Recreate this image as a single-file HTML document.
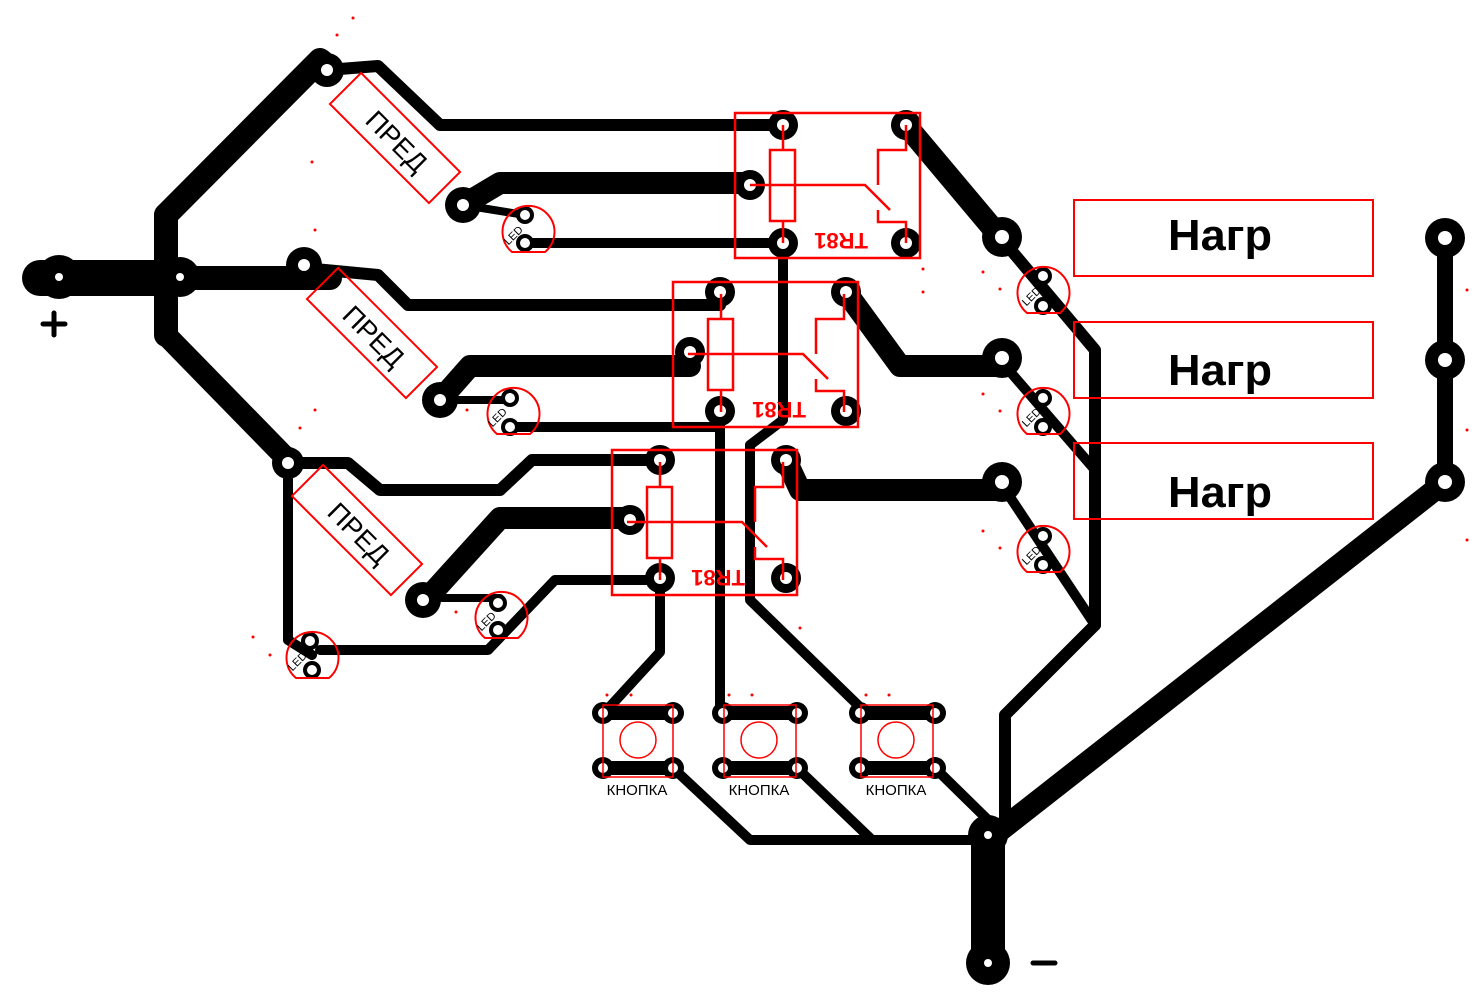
<!DOCTYPE html>
<html><head><meta charset="utf-8"><style>
html,body{margin:0;padding:0;background:#fff;}
svg{display:block;}
text{font-family:"Liberation Sans","DejaVu Sans",sans-serif;}
</style></head><body>
<svg width="1477" height="1007" viewBox="0 0 1477 1007" xmlns="http://www.w3.org/2000/svg">
<g fill="none" stroke="#000" stroke-linecap="round" stroke-linejoin="round">
<path d="M40 278 H180" stroke-width="36"/>
<path d="M180 278 H330" stroke-width="24"/>
<path d="M166 215 V335" stroke-width="24"/>
<path d="M166 215 L320 60 L330 68" stroke-width="24"/>
<path d="M166 335 L288 460" stroke-width="22"/>
<path d="M327 70 L378 66 L440 125 H783" stroke-width="12"/>
<path d="M304 268 L378 275 L408 305 H720" stroke-width="12"/>
<path d="M288 463 H348 L380 490 H500 L532 460 H660" stroke-width="12"/>
<path d="M288 463 V640 L312 655" stroke-width="10"/>
<path d="M320 650 H488 L555 580 H660" stroke-width="10"/>
<path d="M463 205 L500 183 H750" stroke-width="22"/>
<path d="M440 400 L470 366 H690" stroke-width="22"/>
<path d="M423 603 L500 518 H630" stroke-width="22"/>
<path d="M525 243 H783" stroke-width="10"/>
<path d="M463 205 L525 215" stroke-width="8"/>
<path d="M510 427 H720" stroke-width="10"/>
<path d="M440 400 H510" stroke-width="8"/>
<path d="M423 598 H500" stroke-width="8"/>
<path d="M906 125 L1000 237" stroke-width="22"/>
<path d="M1000 237 L1095 350 V625" stroke-width="12"/>
<path d="M846 292 L900 366 H1000" stroke-width="22"/>
<path d="M1000 360 L1095 470" stroke-width="10"/>
<path d="M786 460 L800 490 H1000" stroke-width="22"/>
<path d="M1000 482 L1095 625" stroke-width="10"/>
<path d="M1095 625 L1005 715 V830" stroke-width="12"/>
<path d="M783 243 V420 L750 445 V600 L865 712" stroke-width="10"/>
<path d="M720 411 V712" stroke-width="10"/>
<path d="M660 578 V652 L605 712" stroke-width="10"/>
<path d="M603 713 H673 M603 768 H673 M723 713 H797 M723 768 H797 M860 713 H935 M860 768 H935" stroke-width="14"/>
<path d="M673 768 L750 840 H988 M797 768 L870 838 M935 768 L988 820" stroke-width="10"/>
<path d="M988 835 V965" stroke-width="34"/>
<path d="M1445 238 V482" stroke-width="16"/>
<path d="M1445 482 L988 840" stroke-width="22"/>
<path d="M1033 963 H1055" stroke-width="5"/>
<path d="M43 324 H65 M54 313 V335" stroke-width="5"/>
</g>
<g fill="#000">
<circle cx="59" cy="277" r="22"/><circle cx="180" cy="277" r="20"/>
<circle cx="327" cy="70" r="17"/><circle cx="304" cy="265" r="18"/><circle cx="288" cy="463" r="16"/>
<circle cx="463" cy="205" r="18"/><circle cx="440" cy="400" r="18"/><circle cx="423" cy="600" r="18"/>
<circle cx="783" cy="125" r="15"/><circle cx="906" cy="125" r="15"/><circle cx="783" cy="243" r="15"/><circle cx="906" cy="243" r="15"/><circle cx="750" cy="185" r="15"/>
<circle cx="720" cy="292" r="15"/><circle cx="846" cy="292" r="15"/><circle cx="720" cy="411" r="15"/><circle cx="846" cy="411" r="15"/><circle cx="690" cy="352" r="15"/>
<circle cx="660" cy="460" r="15"/><circle cx="786" cy="460" r="15"/><circle cx="660" cy="578" r="15"/><circle cx="786" cy="578" r="15"/><circle cx="630" cy="520" r="15"/>
<circle cx="1002" cy="237" r="20"/><circle cx="1002" cy="358" r="20"/><circle cx="1002" cy="482" r="20"/>
<circle cx="1445" cy="238" r="20"/><circle cx="1445" cy="360" r="20"/><circle cx="1445" cy="482" r="20"/>
<circle cx="988" cy="835" r="20"/><circle cx="988" cy="963" r="22"/>
<circle cx="603" cy="713" r="11"/><circle cx="673" cy="713" r="11"/><circle cx="603" cy="768" r="11"/><circle cx="673" cy="768" r="11"/>
<circle cx="723" cy="713" r="11"/><circle cx="797" cy="713" r="11"/><circle cx="723" cy="768" r="11"/><circle cx="797" cy="768" r="11"/>
<circle cx="860" cy="713" r="11"/><circle cx="935" cy="713" r="11"/><circle cx="860" cy="768" r="11"/><circle cx="935" cy="768" r="11"/>
<circle cx="525" cy="215" r="9"/><circle cx="525" cy="243" r="9"/>
<circle cx="510" cy="398" r="9"/><circle cx="510" cy="427" r="9"/>
<circle cx="498" cy="603" r="9"/><circle cx="498" cy="630" r="9"/>
<circle cx="310" cy="641" r="9"/><circle cx="312" cy="670" r="9"/>
<circle cx="1043" cy="276" r="9"/><circle cx="1043" cy="306" r="9"/>
<circle cx="1043" cy="398" r="9"/><circle cx="1043" cy="427" r="9"/>
<circle cx="1043" cy="536" r="9"/><circle cx="1043" cy="565" r="9"/>
</g>
<g fill="#fff">
<circle cx="59" cy="277" r="4"/><circle cx="180" cy="277" r="4"/>
<circle cx="327" cy="70" r="6"/><circle cx="304" cy="265" r="6"/><circle cx="288" cy="463" r="6"/>
<circle cx="463" cy="205" r="6"/><circle cx="440" cy="400" r="6"/><circle cx="423" cy="600" r="6"/>
<circle cx="783" cy="125" r="6"/><circle cx="906" cy="125" r="6"/><circle cx="783" cy="243" r="6"/><circle cx="906" cy="243" r="6"/><circle cx="750" cy="185" r="6"/>
<circle cx="720" cy="292" r="6"/><circle cx="846" cy="292" r="6"/><circle cx="720" cy="411" r="6"/><circle cx="846" cy="411" r="6"/><circle cx="690" cy="352" r="6"/>
<circle cx="660" cy="460" r="6"/><circle cx="786" cy="460" r="6"/><circle cx="660" cy="578" r="6"/><circle cx="786" cy="578" r="6"/><circle cx="630" cy="520" r="6"/>
<circle cx="1002" cy="237" r="7"/><circle cx="1002" cy="358" r="7"/><circle cx="1002" cy="482" r="7"/>
<circle cx="1445" cy="238" r="7"/><circle cx="1445" cy="360" r="7"/><circle cx="1445" cy="482" r="7"/>
<circle cx="988" cy="835" r="4"/><circle cx="988" cy="963" r="4"/>
<circle cx="603" cy="713" r="5"/><circle cx="673" cy="713" r="5"/><circle cx="603" cy="768" r="5"/><circle cx="673" cy="768" r="5"/>
<circle cx="723" cy="713" r="5"/><circle cx="797" cy="713" r="5"/><circle cx="723" cy="768" r="5"/><circle cx="797" cy="768" r="5"/>
<circle cx="860" cy="713" r="5"/><circle cx="935" cy="713" r="5"/><circle cx="860" cy="768" r="5"/><circle cx="935" cy="768" r="5"/>
<circle cx="525" cy="215" r="5"/><circle cx="525" cy="243" r="5"/>
<circle cx="510" cy="398" r="5"/><circle cx="510" cy="427" r="5"/>
<circle cx="498" cy="603" r="5"/><circle cx="498" cy="630" r="5"/>
<circle cx="310" cy="641" r="5"/><circle cx="312" cy="670" r="5"/>
<circle cx="1043" cy="276" r="5"/><circle cx="1043" cy="306" r="5"/>
<circle cx="1043" cy="398" r="5"/><circle cx="1043" cy="427" r="5"/>
<circle cx="1043" cy="536" r="5"/><circle cx="1043" cy="565" r="5"/>
</g>
<g fill="none" stroke="#f00" stroke-width="2.5">
<g id="relay">
<rect x="735" y="113" width="185" height="145"/>
<rect x="770" y="150" width="25" height="71"/>
<path d="M783 125 V150 M783 221 V243 M750 185 H865 L890 210 M878 185 V150 H906 V125 M878 210 V222 H906 V243"/>
</g>
<use href="#relay" transform="translate(-62,169)"/>
<use href="#relay" transform="translate(-123,337)"/>
</g>
<g fill="#f00" font-size="22" font-weight="bold">
<text transform="translate(868,233) rotate(180)">TR81</text>
<text transform="translate(806,402) rotate(180)">TR81</text>
<text transform="translate(745,570) rotate(180)">TR81</text>
</g>
<g fill="#f00">
<circle cx="353" cy="18" r="1.5"/><circle cx="337" cy="35" r="1.5"/><circle cx="312" cy="162" r="1.5"/><circle cx="315" cy="230" r="1.5"/>
<circle cx="315" cy="410" r="1.5"/><circle cx="300" cy="428" r="1.5"/><circle cx="467" cy="410" r="1.5"/><circle cx="456" cy="612" r="1.5"/>
<circle cx="253" cy="637" r="1.5"/><circle cx="270" cy="655" r="1.5"/><circle cx="983" cy="272" r="1.5"/><circle cx="1000" cy="289" r="1.5"/>
<circle cx="983" cy="394" r="1.5"/><circle cx="1000" cy="411" r="1.5"/><circle cx="983" cy="531" r="1.5"/><circle cx="1000" cy="548" r="1.5"/>
<circle cx="923" cy="269" r="1.5"/><circle cx="923" cy="292" r="1.5"/><circle cx="607" cy="695" r="1.5"/><circle cx="631" cy="695" r="1.5"/>
<circle cx="729" cy="695" r="1.5"/><circle cx="752" cy="695" r="1.5"/><circle cx="866" cy="695" r="1.5"/><circle cx="889" cy="695" r="1.5"/>
<circle cx="1467" cy="290" r="1.5"/><circle cx="1467" cy="430" r="1.5"/><circle cx="1467" cy="540" r="1.5"/><circle cx="800" cy="628" r="1.5"/>
</g>
<g fill="none" stroke="#f00" stroke-width="2">
<rect x="1074" y="200" width="299" height="76"/>
<rect x="1074" y="322" width="299" height="76"/>
<rect x="1074" y="443" width="299" height="76"/>
<rect x="603" y="705" width="70" height="72" stroke-width="1.5"/><circle cx="638" cy="740" r="18" stroke-width="1.5"/>
<rect x="724" y="705" width="72" height="72" stroke-width="1.5"/><circle cx="759" cy="740" r="18" stroke-width="1.5"/>
<rect x="861" y="705" width="72" height="72" stroke-width="1.5"/><circle cx="896" cy="740" r="18" stroke-width="1.5"/>
<rect x="-70" y="-22" width="140" height="44" transform="translate(395,138) rotate(45)"/>
<rect x="-70" y="-22" width="140" height="44" transform="translate(372,333) rotate(45)"/>
<rect x="-70" y="-22" width="140" height="44" transform="translate(357,530) rotate(45)"/>
<path d="M512 252 A26 26 0 1 1 545 252 Z"/>
<path d="M497 434 A26 26 0 1 1 530 434 Z"/>
<path d="M485 638 A26 26 0 1 1 518 638 Z"/>
<path d="M296 678 A26 26 0 1 1 329 678 Z"/>
<path d="M1027 313 A26 26 0 1 1 1060 313 Z"/>
<path d="M1027 434 A26 26 0 1 1 1060 434 Z"/>
<path d="M1027 572 A26 26 0 1 1 1060 572 Z"/>
</g>
<g fill="#000" font-size="44" font-weight="bold" text-anchor="middle">
<text x="1220" y="250" textLength="104" lengthAdjust="spacingAndGlyphs">Нагр</text>
<text x="1220" y="385" textLength="104" lengthAdjust="spacingAndGlyphs">Нагр</text>
<text x="1220" y="507" textLength="104" lengthAdjust="spacingAndGlyphs">Нагр</text>
</g>
<g fill="#000" font-size="15" text-anchor="middle">
<text x="637" y="795">КНОПКА</text><text x="759" y="795">КНОПКА</text><text x="896" y="795">КНОПКА</text>
</g>
<g fill="#000" font-size="27" text-anchor="middle">
<text transform="translate(390,148) rotate(45)">ПРЕД</text>
<text transform="translate(367,343) rotate(45)">ПРЕД</text>
<text transform="translate(352,540) rotate(45)">ПРЕД</text>
</g>
<g fill="#000" font-size="11" text-anchor="middle">
<text transform="translate(516,238) rotate(-45)">LED</text>
<text transform="translate(500,420) rotate(-45)">LED</text>
<text transform="translate(489,624) rotate(-45)">LED</text>
<text transform="translate(300,664) rotate(-45)">LED</text>
<text transform="translate(1034,299) rotate(-45)">LED</text>
<text transform="translate(1034,420) rotate(-45)">LED</text>
<text transform="translate(1034,558) rotate(-45)">LED</text>
</g>
</svg>
</body></html>
